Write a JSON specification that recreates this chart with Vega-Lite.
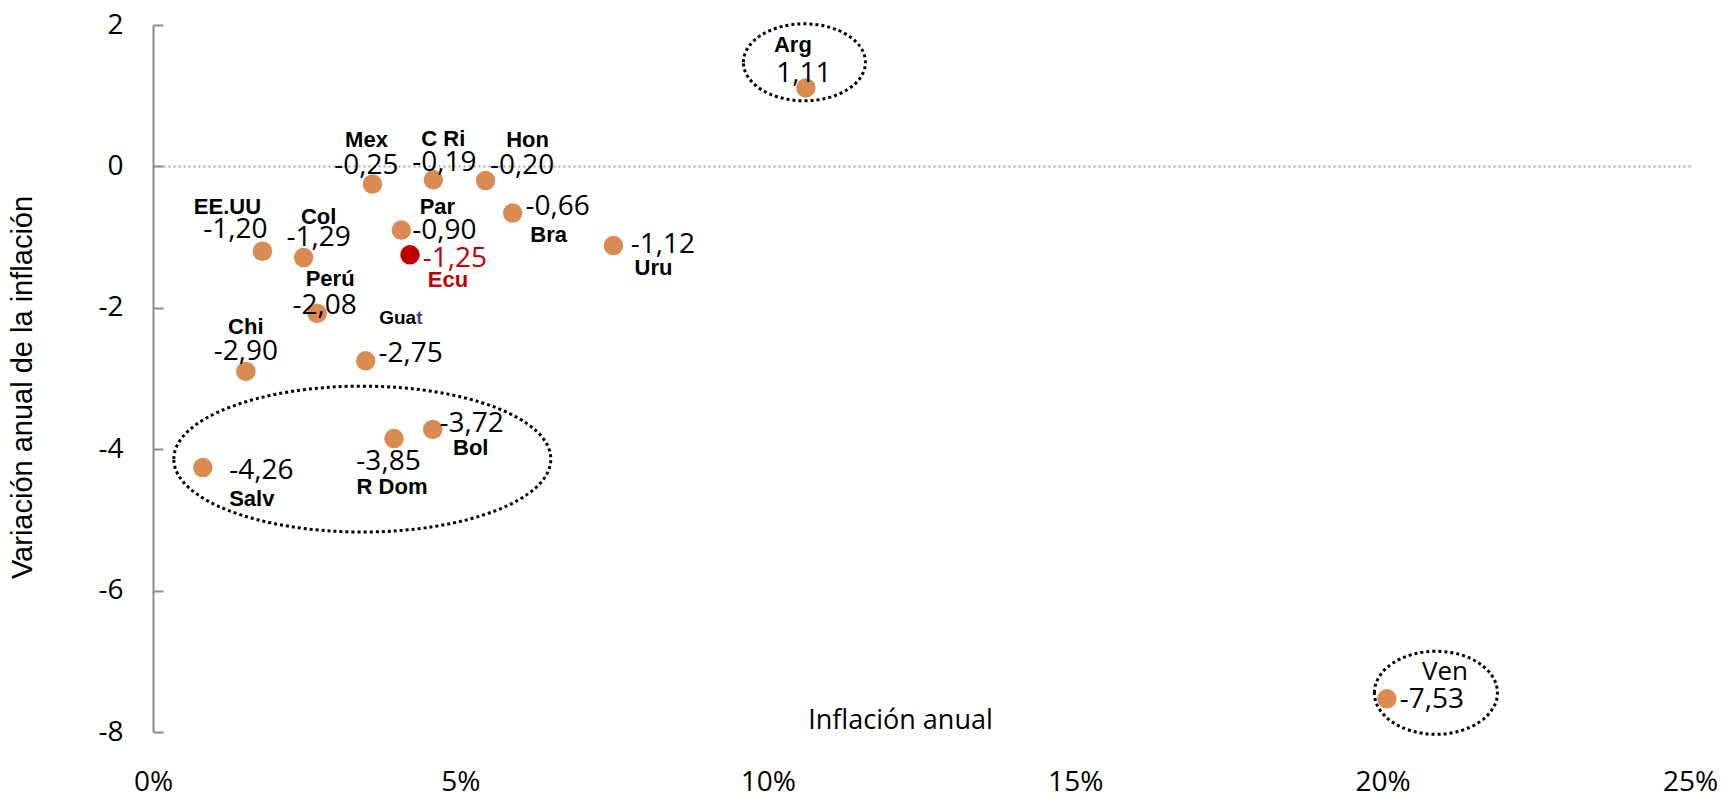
{
  "$schema": "https://vega.github.io/schema/vega-lite/v6.json",
  "width": 1537,
  "height": 707,
  "autosize": {"type": "none"},
  "padding": {"left": 153, "top": 25, "right": 32, "bottom": 63},
  "background": "white",
  "config": {
    "view": {"stroke": null},
    "locale": {"number": {"decimal": ",", "thousands": ".", "grouping": [3], "currency": ["", "€"], "minus": "-"}}
  },
  "data": {
    "values": [
      {"pais": "Arg", "inf": 10.62, "var": 1.11},
      {"pais": "Mex", "inf": 3.57, "var": -0.25},
      {"pais": "C Ri", "inf": 4.56, "var": -0.19},
      {"pais": "Hon", "inf": 5.41, "var": -0.2},
      {"pais": "EE.UU", "inf": 1.78, "var": -1.2},
      {"pais": "Col", "inf": 2.45, "var": -1.29},
      {"pais": "Par", "inf": 4.04, "var": -0.9},
      {"pais": "Ecu", "inf": 4.18, "var": -1.25},
      {"pais": "Bra", "inf": 5.85, "var": -0.66},
      {"pais": "Uru", "inf": 7.49, "var": -1.12},
      {"pais": "Perú", "inf": 2.67, "var": -2.08},
      {"pais": "Guat", "inf": 3.46, "var": -2.75},
      {"pais": "Chi", "inf": 1.51, "var": -2.9},
      {"pais": "Bol", "inf": 4.55, "var": -3.72},
      {"pais": "R Dom", "inf": 3.92, "var": -3.85},
      {"pais": "Salv", "inf": 0.81, "var": -4.26},
      {"pais": "Ven", "inf": 20.07, "var": -7.53}
    ]
  },
  "encoding": {
    "x": {
      "field": "inf", "type": "quantitative",
      "scale": {"domain": [0, 25], "nice": false, "zero": false},
      "axis": {
        "values": [0, 5, 10, 15, 20, 25],
        "labelExpr": "datum.value + '%'",
        "domain": false, "ticks": false, "grid": false,
        "labelFont": "Open Sans", "labelFontSize": 28, "labelColor": "#000",
        "labelPadding": 50, "labelBaseline": "middle",
        "labelOverlap": false, "labelFlush": false, "labelBound": false,
        "title": "Inflación anual",
        "titleFont": "Open Sans", "titleFontSize": 27, "titleFontWeight": "normal", "titleColor": "#000",
        "titleX": 747, "titleY": -12, "titleBaseline": "middle", "titleAlign": "center"
      }
    },
    "y": {
      "field": "var", "type": "quantitative",
      "scale": {"domain": [-8, 2], "nice": false, "zero": false},
      "axis": {
        "values": [-8, -6, -4, -2, 0, 2],
        "format": "d",
        "domain": true, "domainColor": "#8C8C8C", "domainWidth": 2,
        "ticks": true, "tickSize": -10, "tickColor": "#8C8C8C", "tickWidth": 2,
        "labelPadding": 40, "labelFont": "Open Sans", "labelFontSize": 28, "labelColor": "#000",
        "labelOverlap": false, "labelFlush": false,
        "grid": true, "gridColor": "#A6A6A6", "gridDash": [2, 3], "gridWidth": 2,
        "gridOpacity": {"condition": {"test": "datum.value === 0", "value": 1}, "value": 0},
        "title": "Variación anual de la inflación",
        "titleFont": "Liberation Sans", "titleFontSize": 29, "titleFontWeight": "normal", "titleColor": "#000",
        "titleX": -131, "titleY": 362, "titleBaseline": "middle", "titleAlign": "center"
      }
    }
  },
  "layer": [
    {
      "mark": {"type": "circle", "size": 380, "opacity": 1},
      "encoding": {
        "color": {"condition": {"test": "datum.pais === 'Ecu'", "value": "#C00000"}, "value": "#D98B52"}
      }
    },
    {
      "transform": [{"filter": "datum.pais === 'Arg'"}],
      "mark": {"type": "point", "shape": "M-1,0C-1,-0.3485,-0.5523,-0.631,0,-0.631C0.5523,-0.631,1,-0.3485,1,0C1,0.3485,0.5523,0.631,0,0.631C-0.5523,0.631,-1,0.3485,-1,0Z", "size": 14884, "filled": false, "color": "#000", "strokeWidth": 3, "strokeDash": [3, 3], "opacity": 1, "xOffset": -1.5, "yOffset": -25.6}
    },
    {
      "transform": [{"filter": "datum.pais === 'Ven'"}],
      "mark": {"type": "point", "shape": "M-1,0C-1,-0.3728,-0.5523,-0.675,0,-0.675C0.5523,-0.675,1,-0.3728,1,0C1,0.3728,0.5523,0.675,0,0.675C-0.5523,0.675,-1,0.3728,-1,0Z", "size": 15129, "filled": false, "color": "#000", "strokeWidth": 3, "strokeDash": [3, 3], "opacity": 1, "xOffset": 49, "yOffset": -6}
    },
    {
      "transform": [{"filter": "datum.pais === 'R Dom'"}],
      "mark": {"type": "point", "shape": "M-1,0C-1,-0.2138,-0.5523,-0.387,0,-0.387C0.5523,-0.387,1,-0.2138,1,0C1,0.2138,0.5523,0.387,0,0.387C-0.5523,0.387,-1,0.2138,-1,0Z", "size": 142129, "filled": false, "color": "#000", "strokeWidth": 3, "strokeDash": [3, 3], "opacity": 1, "xOffset": -31.7, "yOffset": 20.5}
    },
    {
      "transform": [{"filter": "datum.pais === 'Arg'"}],
      "layer": [
        {"mark": {"type": "text", "font": "Liberation Sans", "fontWeight": "bold", "fontSize": 22, "color": "#000", "align": "center", "baseline": "middle", "dx": -13, "dy": -43}, "encoding": {"text": {"field": "pais"}}},
        {"mark": {"type": "text", "font": "Open Sans", "fontSize": 28, "color": "#000", "align": "center", "baseline": "middle", "dx": -2, "dy": -14}, "encoding": {"text": {"field": "var", "type": "quantitative", "format": ".2f"}}}
      ]
    },
    {
      "transform": [{"filter": "datum.pais === 'Mex'"}],
      "layer": [
        {"mark": {"type": "text", "font": "Liberation Sans", "fontWeight": "bold", "fontSize": 22, "color": "#000", "align": "center", "baseline": "middle", "dx": -6, "dy": -44}, "encoding": {"text": {"field": "pais"}}},
        {"mark": {"type": "text", "font": "Open Sans", "fontSize": 28, "color": "#000", "align": "center", "baseline": "middle", "dx": -6, "dy": -18.5}, "encoding": {"text": {"field": "var", "type": "quantitative", "format": ".2f"}}}
      ]
    },
    {
      "transform": [{"filter": "datum.pais === 'C Ri'"}],
      "layer": [
        {"mark": {"type": "text", "font": "Liberation Sans", "fontWeight": "bold", "fontSize": 22, "color": "#000", "align": "center", "baseline": "middle", "dx": 10, "dy": -41}, "encoding": {"text": {"field": "pais"}}},
        {"mark": {"type": "text", "font": "Open Sans", "fontSize": 28, "color": "#000", "align": "center", "baseline": "middle", "dx": 11, "dy": -17}, "encoding": {"text": {"field": "var", "type": "quantitative", "format": ".2f"}}}
      ]
    },
    {
      "transform": [{"filter": "datum.pais === 'Hon'"}],
      "layer": [
        {"mark": {"type": "text", "font": "Liberation Sans", "fontWeight": "bold", "fontSize": 22, "color": "#000", "align": "center", "baseline": "middle", "dx": 42, "dy": -41}, "encoding": {"text": {"field": "pais"}}},
        {"mark": {"type": "text", "font": "Open Sans", "fontSize": 28, "color": "#000", "align": "center", "baseline": "middle", "dx": 36.5, "dy": -15}, "encoding": {"text": {"field": "var", "type": "quantitative", "format": ".2f"}}}
      ]
    },
    {
      "transform": [{"filter": "datum.pais === 'EE.UU'"}],
      "layer": [
        {"mark": {"type": "text", "font": "Liberation Sans", "fontWeight": "bold", "fontSize": 22, "color": "#000", "align": "center", "baseline": "middle", "dx": -35, "dy": -44}, "encoding": {"text": {"field": "pais"}}},
        {"mark": {"type": "text", "font": "Open Sans", "fontSize": 28, "color": "#000", "align": "center", "baseline": "middle", "dx": -27, "dy": -21}, "encoding": {"text": {"field": "var", "type": "quantitative", "format": ".2f"}}}
      ]
    },
    {
      "transform": [{"filter": "datum.pais === 'Col'"}],
      "layer": [
        {"mark": {"type": "text", "font": "Liberation Sans", "fontWeight": "bold", "fontSize": 22, "color": "#000", "align": "center", "baseline": "middle", "dx": 15, "dy": -41}, "encoding": {"text": {"field": "pais"}}},
        {"mark": {"type": "text", "font": "Open Sans", "fontSize": 28, "color": "#000", "align": "center", "baseline": "middle", "dx": 15, "dy": -19.5}, "encoding": {"text": {"field": "var", "type": "quantitative", "format": ".2f"}}}
      ]
    },
    {
      "transform": [{"filter": "datum.pais === 'Par'"}],
      "layer": [
        {"mark": {"type": "text", "font": "Liberation Sans", "fontWeight": "bold", "fontSize": 22, "color": "#000", "align": "center", "baseline": "middle", "dx": 36, "dy": -23}, "encoding": {"text": {"field": "pais"}}},
        {"mark": {"type": "text", "font": "Open Sans", "fontSize": 28, "color": "#000", "align": "center", "baseline": "middle", "dx": 43, "dy": 1}, "encoding": {"text": {"field": "var", "type": "quantitative", "format": ".2f"}}}
      ]
    },
    {
      "transform": [{"filter": "datum.pais === 'Ecu'"}],
      "layer": [
        {"mark": {"type": "text", "font": "Liberation Sans", "fontWeight": "bold", "fontSize": 22, "color": "#C00000", "align": "center", "baseline": "middle", "dx": 38, "dy": 25}, "encoding": {"text": {"field": "pais"}}},
        {"mark": {"type": "text", "font": "Open Sans", "fontSize": 28, "color": "#C00000", "align": "center", "baseline": "middle", "dx": 45, "dy": 4}, "encoding": {"text": {"field": "var", "type": "quantitative", "format": ".2f"}}}
      ]
    },
    {
      "transform": [{"filter": "datum.pais === 'Bra'"}],
      "layer": [
        {"mark": {"type": "text", "font": "Liberation Sans", "fontWeight": "bold", "fontSize": 22, "color": "#000", "align": "center", "baseline": "middle", "dx": 36, "dy": 22}, "encoding": {"text": {"field": "pais"}}},
        {"mark": {"type": "text", "font": "Open Sans", "fontSize": 28, "color": "#000", "align": "center", "baseline": "middle", "dx": 45, "dy": -6}, "encoding": {"text": {"field": "var", "type": "quantitative", "format": ".2f"}}}
      ]
    },
    {
      "transform": [{"filter": "datum.pais === 'Uru'"}],
      "layer": [
        {"mark": {"type": "text", "font": "Liberation Sans", "fontWeight": "bold", "fontSize": 22, "color": "#000", "align": "center", "baseline": "middle", "dx": 40, "dy": 22}, "encoding": {"text": {"field": "pais"}}},
        {"mark": {"type": "text", "font": "Open Sans", "fontSize": 28, "color": "#000", "align": "center", "baseline": "middle", "dx": 49.5, "dy": -0.5}, "encoding": {"text": {"field": "var", "type": "quantitative", "format": ".2f"}}}
      ]
    },
    {
      "transform": [{"filter": "datum.pais === 'Perú'"}],
      "layer": [
        {"mark": {"type": "text", "font": "Liberation Sans", "fontWeight": "bold", "fontSize": 22, "color": "#000", "align": "center", "baseline": "middle", "dx": 13, "dy": -34}, "encoding": {"text": {"field": "pais"}}},
        {"mark": {"type": "text", "font": "Open Sans", "fontSize": 28, "color": "#000", "align": "center", "baseline": "middle", "dx": 7.5, "dy": -7}, "encoding": {"text": {"field": "var", "type": "quantitative", "format": ".2f"}}}
      ]
    },
    {
      "transform": [{"filter": "datum.pais === 'Guat'"}],
      "layer": [
        {"mark": {"type": "text", "font": "Liberation Sans", "fontWeight": "bold", "fontSize": 19, "color": "#000", "align": "left", "baseline": "middle", "dx": 13.5, "dy": -43, "text": "Gua"}},
        {"mark": {"type": "text", "font": "Liberation Sans", "fontWeight": "bold", "fontSize": 19, "color": "#3F3F9F", "align": "left", "baseline": "middle", "dx": 50.5, "dy": -43, "text": "t"}},
        {"mark": {"type": "text", "font": "Open Sans", "fontSize": 28, "color": "#000", "align": "center", "baseline": "middle", "dx": 45, "dy": -6.5}, "encoding": {"text": {"field": "var", "type": "quantitative", "format": ".2f"}}}
      ]
    },
    {
      "transform": [{"filter": "datum.pais === 'Chi'"}],
      "layer": [
        {"mark": {"type": "text", "font": "Liberation Sans", "fontWeight": "bold", "fontSize": 22, "color": "#000", "align": "center", "baseline": "middle", "dx": 0, "dy": -44}, "encoding": {"text": {"field": "pais"}}},
        {"mark": {"type": "text", "font": "Open Sans", "fontSize": 28, "color": "#000", "align": "center", "baseline": "middle", "dx": 0, "dy": -19}, "encoding": {"text": {"field": "var", "type": "quantitative", "format": ".2f"}}}
      ]
    },
    {
      "transform": [{"filter": "datum.pais === 'Salv'"}],
      "layer": [
        {"mark": {"type": "text", "font": "Liberation Sans", "fontWeight": "bold", "fontSize": 22, "color": "#000", "align": "center", "baseline": "middle", "dx": 49, "dy": 31}, "encoding": {"text": {"field": "pais"}}},
        {"mark": {"type": "text", "font": "Open Sans", "fontSize": 28, "color": "#000", "align": "center", "baseline": "middle", "dx": 58.5, "dy": 3.5}, "encoding": {"text": {"field": "var", "type": "quantitative", "format": ".2f"}}}
      ]
    },
    {
      "transform": [{"filter": "datum.pais === 'R Dom'"}],
      "layer": [
        {"mark": {"type": "text", "font": "Liberation Sans", "fontWeight": "bold", "fontSize": 22, "color": "#000", "align": "center", "baseline": "middle", "dx": -2, "dy": 48}, "encoding": {"text": {"field": "pais"}}},
        {"mark": {"type": "text", "font": "Open Sans", "fontSize": 28, "color": "#000", "align": "center", "baseline": "middle", "dx": -5.5, "dy": 23}, "encoding": {"text": {"field": "var", "type": "quantitative", "format": ".2f"}}}
      ]
    },
    {
      "transform": [{"filter": "datum.pais === 'Bol'"}],
      "layer": [
        {"mark": {"type": "text", "font": "Liberation Sans", "fontWeight": "bold", "fontSize": 22, "color": "#000", "align": "center", "baseline": "middle", "dx": 38, "dy": 19}, "encoding": {"text": {"field": "pais"}}},
        {"mark": {"type": "text", "font": "Open Sans", "fontSize": 28, "color": "#000", "align": "center", "baseline": "middle", "dx": 39, "dy": -5.5}, "encoding": {"text": {"field": "var", "type": "quantitative", "format": ".2f"}}}
      ]
    },
    {
      "transform": [{"filter": "datum.pais === 'Ven'"}],
      "layer": [
        {"mark": {"type": "text", "font": "Open Sans", "fontSize": 26, "color": "#000", "align": "center", "baseline": "middle", "dx": 58, "dy": -27}, "encoding": {"text": {"field": "pais"}}},
        {"mark": {"type": "text", "font": "Open Sans", "fontSize": 28, "color": "#000", "align": "center", "baseline": "middle", "dx": 45, "dy": 1.5}, "encoding": {"text": {"field": "var", "type": "quantitative", "format": ".2f"}}}
      ]
    }
  ]
}
